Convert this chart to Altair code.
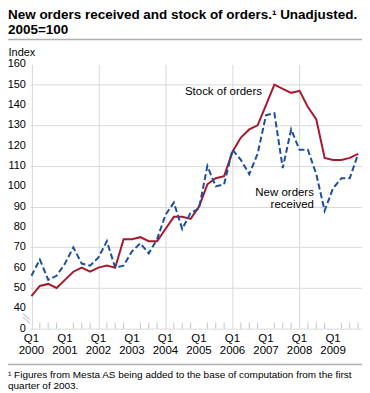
import altair as alt
import pandas as pd

# ---- data ----
years = list(range(2000, 2010))
quarters = [y + q / 4 for y in years for q in range(4)]
stock_of_orders = [46, 51, 52, 50, 54, 58, 60, 58, 60, 61, 60, 74,
                   74, 75, 73, 73, 79, 85, 85, 84, 90, 101, 104, 105,
                   117, 124, 128, 130, 140, 150, 148, 146, 147, 139, 133, 114,
                   113, 113, 114, 116]
new_orders = [56, 64, 54, 56, 62, 70, 62, 61, 65, 73, 60, 61,
              68, 72, 67, 74, 86, 92, 79, 87, 89, 110, 100, 101,
              118, 113, 106, 116, 135, 136, 109, 128, 118, 118, 106, 88,
              99, 104, 104, 116]
y_ticks = list(range(30, 161, 10))  # position 30 carries the "0" of the broken axis
y_tick_labels = ["0"] + [str(v) for v in range(40, 161, 10)]
x_tick_labels = ["Q1\n" + str(y) for y in years]
title_lines = ["New orders received and stock of orders.\u00b9 Unadjusted.", "2005=100"]
footnote_lines = ["\u00b9 Figures from Mesta AS being added to the base of computation from the first",
                  "quarter of 2003."]
series_labels = ["Stock of orders", "New orders", "received"]
label_t = [2006.88, 2008.43, 2008.43]
label_v = [146.5, 96.5, 90.7]

FONT = "Liberation Sans"
W, H = 333, 265
RED = "#a6192e"
BLUE = "#1d4f9f"
GRID = "#d9d9d9"

df = pd.DataFrame({"t": quarters, "stock": stock_of_orders, "new": new_orders})
xscale = alt.Scale(domain=[1999.955, 2009.865], nice=False, zero=False)
yscale = alt.Scale(domain=[30, 160], nice=False, zero=False)

x_axis = alt.Axis(values=years, grid=True, gridColor=GRID, ticks=False, domain=False,
                  labels=False, title=None)
y_axis = alt.Axis(values=y_ticks, grid=True, gridColor=GRID, ticks=False, domain=False,
                  labels=False,
                  title="Index", titleAngle=0, titleAlign="left", titleBaseline="alphabetic",
                  titleX=-22, titleY=-9, titleFont=FONT, titleFontSize=11,
                  titleFontWeight="normal", titleColor="#000")

stock_line = alt.Chart(df).mark_line(color=RED, strokeWidth=2).encode(
    x=alt.X("t:Q", scale=xscale, axis=x_axis),
    y=alt.Y("stock:Q", scale=yscale, axis=y_axis),
)
new_line = alt.Chart(df).mark_line(color=BLUE, strokeWidth=2, strokeDash=[6, 3]).encode(
    x="t:Q", y="new:Q"
)

tick_df = pd.DataFrame({"t": [q for q in quarters if q % 1 != 0]})
ticks = alt.Chart(tick_df).mark_rule(color="#c4c4c4").encode(
    x="t:Q", y=alt.value(H), y2=alt.value(H - 6)
)

xlab = alt.Chart(pd.DataFrame({"t": years, "s": x_tick_labels})).mark_text(
    align="center", baseline="top", font=FONT, fontSize=11.5, lineHeight=12,
    lineBreak="\n", color="#000").encode(x="t:Q", y=alt.value(H + 4), text="s:N")
ylab = alt.Chart(pd.DataFrame({"v": y_ticks, "s": y_tick_labels})).mark_text(
    align="right", baseline="middle", font=FONT, fontSize=11, color="#000").encode(
    y="v:Q", x=alt.value(-4), text="s:N")

ann_df = pd.DataFrame({"t": label_t, "v": label_v, "label": series_labels})
ann = alt.Chart(ann_df).mark_text(align="right", baseline="middle", font=FONT,
                                  fontSize=11.5, color="#000").encode(
    x="t:Q", y="v:Q", text="label:N"
)

one = pd.DataFrame({"k": [0]})
brk = [
    alt.Chart(one).mark_rule(color="#c8c8c8", strokeWidth=1.2).encode(
        x=alt.value(-7), x2=alt.value(0), y=alt.value(yy), y2=alt.value(yy + 6))
    for yy in (250, 253.5)
]
seps = [
    alt.Chart(one).mark_rule(color="#b0b0b0", strokeWidth=1.5).encode(
        x=alt.value(-22), x2=alt.value(W), y=alt.value(yy))
    for yy in (-25, 301)
]

texts = []
for line, py in zip(title_lines, (-45.5, -30.5)):
    texts.append(alt.Chart(pd.DataFrame({"s": [line]})).mark_text(
        align="left", baseline="alphabetic", font=FONT, fontSize=13.5,
        fontWeight="bold", color="#000").encode(
        x=alt.value(-22), y=alt.value(py), text="s:N"))
for line, py in zip(footnote_lines, (314.5, 325.5)):
    texts.append(alt.Chart(pd.DataFrame({"s": [line]})).mark_text(
        align="left", baseline="alphabetic", font=FONT, fontSize=10,
        color="#000").encode(
        x=alt.value(-22), y=alt.value(py), text="s:N"))

chart = alt.layer(stock_line, new_line, ticks, xlab, ylab, ann, *brk, *seps, *texts).properties(
    width=W, height=H,
    padding={"left": 22, "top": 56, "right": 0, "bottom": 63},
    autosize=alt.AutoSizeParams(type="none"),
).configure_view(stroke=None)

chart.save("out.html", embed_options={"renderer": "svg", "actions": False})
